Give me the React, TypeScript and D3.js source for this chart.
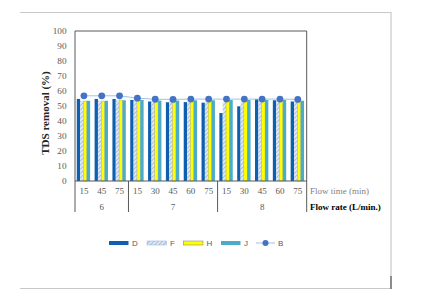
import React from "react";
import * as d3 from "d3";

const flowTimes = ["15", "45", "75", "15", "30", "45", "60", "75", "15", "30", "45", "60", "75"];
const flowRates = [
  { label: "6", start: 0, end: 3 },
  { label: "7", start: 3, end: 8 },
  { label: "8", start: 8, end: 13 },
];
const seriesD = [54.7, 54.7, 54.7, 54.0, 53.0, 52.5, 52.6, 52.2, 45.3, 49.8, 54.6, 53.8, 53.0];
const seriesF = [53.5, 53.5, 53.8, 53.5, 53.0, 53.0, 53.0, 53.0, 52.6, 52.8, 53.5, 53.5, 53.0];
const seriesH = [53.3, 53.3, 54.0, 54.0, 53.5, 53.5, 53.5, 53.5, 53.5, 53.5, 53.3, 53.3, 53.3];
const seriesJ = [53.5, 53.5, 53.8, 54.0, 53.6, 53.6, 53.8, 53.8, 54.0, 54.0, 54.0, 54.0, 53.5];
const seriesB = [56.8, 56.8, 56.8, 55.2, 54.5, 54.4, 54.6, 54.6, 54.6, 54.6, 54.6, 54.6, 54.4];
const yTicks = [0, 10, 20, 30, 40, 50, 60, 70, 80, 90, 100];
const barKeys = ["D", "F", "H", "J"];

const colors: Record<string, string> = {
  D: "#0F5FB0",
  F: "url(#hatchF)",
  H: "#FFFF00",
  J: "#4BACC6",
};

export default function App() {
  const left = 75, right = 306.7, top = 31, bottom = 181;
  const x = d3.scaleBand<number>().domain(d3.range(flowTimes.length)).range([left, right]).padding(0);
  const bw = x.bandwidth();
  const xs = d3.scaleBand<string>().domain(barKeys).range([bw * 0.1, bw * 0.85]).padding(0);
  const y = d3.scaleLinear().domain([0, 100]).range([bottom, top]);
  const data: Record<string, number[]> = { D: seriesD, F: seriesF, H: seriesH, J: seriesJ };
  const line = d3.line<number>().x((_, i) => (x(i) as number) + bw / 2).y((d) => y(d));
  const serif = "'Liberation Serif', 'Times New Roman', serif";
  const sans = "'Liberation Sans', Arial, sans-serif";
  const sepIdx = [0, 3, 8, 13];
  const sepX = (i: number) => (i < flowTimes.length ? (x(i) as number) : right);

  const legendItems = [
    { key: "D", x: 109 },
    { key: "F", x: 147 },
    { key: "H", x: 183.5 },
    { key: "J", x: 221 },
  ];

  return (
    <svg width={433} height={300} style={{ position: "absolute", left: 0, top: 0 }}>
      <defs>
        <pattern id="hatchF" patternUnits="userSpaceOnUse" width={3} height={3} patternTransform="rotate(45)">
          <rect width={3} height={3} fill="#dfe8f4" />
          <line x1={0} y1={0} x2={0} y2={3} stroke="#8eaed6" strokeWidth={1.4} />
        </pattern>
      </defs>
      <rect x={0} y={0} width={433} height={300} fill="#fff" />
      {/* outer frame */}
      <path d="M20,12.5 H391 V288.5 H20" fill="none" stroke="#c8c8c8" strokeWidth={1.2} />
      <line x1={391} y1={276} x2={391} y2={289} stroke="#555" strokeWidth={1.2} />

      {/* bars */}
      {flowTimes.map((_, i) => (
        <g key={i} transform={`translate(${x(i)},0)`}>
          {barKeys.map((k) => (
            <rect
              key={k}
              x={xs(k)}
              y={y(data[k][i])}
              width={xs.bandwidth()}
              height={bottom - y(data[k][i])}
              fill={colors[k]}
              stroke={k === "H" ? "#9a9a6a" : "none"}
              strokeWidth={k === "H" ? 0.4 : 0}
            />
          ))}
        </g>
      ))}

      {/* line B */}
      <path d={line(seriesB) || ""} fill="none" stroke="#9DC3E6" strokeWidth={1} />
      {seriesB.map((v, i) => (
        <circle key={i} cx={(x(i) as number) + bw / 2} cy={y(v)} r={3.4} fill="#4472C4" />
      ))}

      {/* plot box */}
      <path d={`M${left},${bottom} V${top} H${right} V${bottom}`} fill="none" stroke="#595959" strokeWidth={1} />
      <line x1={left} y1={bottom} x2={right} y2={bottom} stroke="#595959" strokeWidth={1} />

      {/* y ticks */}
      {yTicks.map((t) => (
        <text key={t} x={66.5} y={y(t)} dy="0.35em" textAnchor="end" fontFamily={serif} fontSize={9.2} fill="#595959">
          {t}
        </text>
      ))}
      <text
        transform={`translate(49,${(top + bottom) / 2 + 7}) rotate(-90)`}
        textAnchor="middle"
        fontFamily={serif}
        fontSize={11}
        fontWeight="bold"
        fill="#262626"
      >
        TDS removal (%)
      </text>

      {/* x categories */}
      {sepIdx.map((s) => (
        <line key={s} x1={sepX(s)} y1={bottom} x2={sepX(s)} y2={212} stroke="#595959" strokeWidth={1} />
      ))}
      {flowTimes.map((t, i) => (
        <text key={i} x={(x(i) as number) + bw / 2} y={193.8} textAnchor="middle" fontFamily={serif} fontSize={9} fill="#595959">
          {t}
        </text>
      ))}
      {flowRates.map((r) => (
        <text
          key={r.label}
          x={(sepX(r.start) + sepX(r.end)) / 2}
          y={209.8}
          textAnchor="middle"
          fontFamily={serif}
          fontSize={9}
          fill="#595959"
        >
          {r.label}
        </text>
      ))}
      <text x={310} y={193.5} fontFamily={serif} fontSize={9} fill="#7f7f7f">
        Flow time (min)
      </text>
      <text x={310} y={209.5} fontFamily={serif} fontSize={9} fontWeight="bold" fill="#000">
        Flow rate (L/min.)
      </text>

      {/* legend */}
      {legendItems.map((l) => (
        <g key={l.key}>
          <rect
            x={l.x}
            y={241}
            width={19.5}
            height={4}
            fill={colors[l.key]}
            stroke={l.key === "H" ? "#777" : l.key === "F" ? "#8eaed6" : "none"}
            strokeWidth={0.5}
          />
          <text x={l.x + 23} y={243} dy="0.35em" fontFamily={sans} fontSize={8} fill="#595959">
            {l.key}
          </text>
        </g>
      ))}
      <line x1={256} y1={243} x2={275} y2={243} stroke="#9DC3E6" strokeWidth={1} />
      <circle cx={265.5} cy={243} r={3} fill="#4472C4" />
      <text x={278} y={243} dy="0.35em" fontFamily={sans} fontSize={8} fill="#595959">
        B
      </text>
    </svg>
  );
}
